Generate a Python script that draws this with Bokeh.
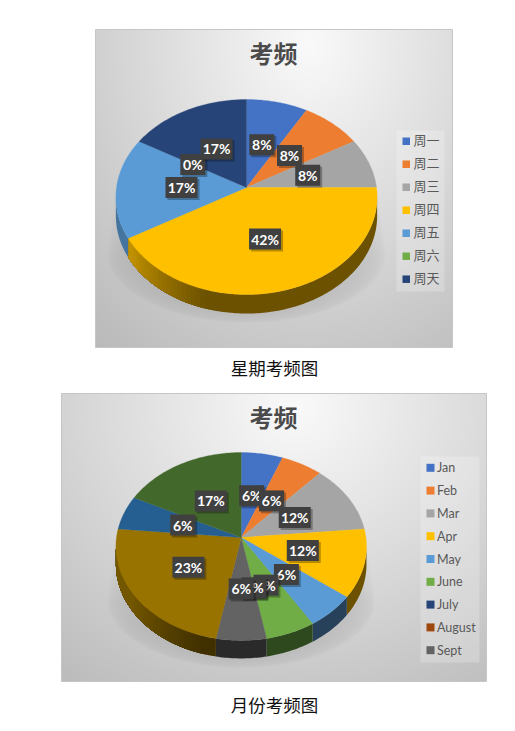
import numpy as np
from bokeh.plotting import figure
from bokeh.models import Range1d
from bokeh.core.properties import value
from bokeh.embed import file_html
from bokeh.resources import INLINE

# ---- data ----
chart_title = "考频"
week_names = ["周一", "周二", "周三", "周四", "周五", "周六", "周天"]
week_counts = [1, 1, 1, 5, 2, 0, 2]
week_labels = ["8%", "8%", "8%", "42%", "17%", "0%", "17%"]
week_caption = "星期考频图"

month_legend = ["Jan", "Feb", "Mar", "Apr", "May", "June", "July", "August", "Sept"]
month_counts = [1, 1, 2, 2, 1, 1, 0, 0, 1, 4, 1, 3]
month_labels = ["6%", "6%", "12%", "12%", "6%", "6%", "0%", "0%", "6%", "23%", "6%", "17%"]
month_caption = "月份考频图"

palette = ["#4472C4", "#ED7D31", "#A5A5A5", "#FFC000", "#5B9BD5", "#70AD47",
           "#264478", "#9E480E", "#636363", "#997300", "#255E91", "#43682B"]
week_colors = palette[:6] + ["#264478"]

W, H = 507, 723
p = figure(width=W, height=H, output_backend="svg", toolbar_location=None,
           x_range=Range1d(0, W), y_range=Range1d(0, H),
           x_axis_type=None, y_axis_type=None, min_border=0,
           outline_line_color=None, background_fill_color="white",
           border_fill_color="white")
p.grid.visible = False


def X(px):
    return np.asarray(px, dtype=float)


def Y(py):
    return H - np.asarray(py, dtype=float)


def hex_rgb(c):
    return np.array([int(c[i:i + 2], 16) for i in (1, 3, 5)], dtype=float)


def to_hex(rgb):
    return "#%02x%02x%02x" % tuple(int(round(min(255, max(0, v)))) for v in rgb)


def shade(theta):
    return 0.42 + 0.33 * np.clip((theta - 195) / 40, 0, 1)


def draw_panel(box, pie, counts, colors, labels, legend_names, legend_box, legend_rows,
               title_xy, caption, caption_xy, label_frac, glow):
    x0, y0, x1, y1 = box
    cx, cy, rx, ry, k, depth = pie

    def proj(theta, frac=1.0):
        t = np.radians(theta)
        w = 1 + k * np.cos(t)
        return cx + frac * rx * np.sin(t) / w, cy - frac * ry * np.cos(t) / w

    # background gradient + pie shadow
    pw, ph = int(x1 - x0), int(y1 - y0)
    xs = (np.arange(pw) + 0.5)
    ys = (np.arange(ph) + 0.5)
    gx, gy = np.meshgrid(xs, ys)
    d = np.sqrt(((gx / pw - glow) / 0.75) ** 2 + ((gy / ph - 0.05) / 1.0) ** 2)
    val = 250 - 52 * d
    ax = gx + x0 - cx
    ay = gy + y0 - cy
    mid = ry * 0.68
    half = rx + 9 * np.clip(ay / mid, 0, 1)
    u = np.abs(ax) / half
    v = np.where(ay > mid, (ay - mid) / (ry * 0.72), 0)
    r = np.sqrt(u ** 2 + v ** 2)
    sh = 0.2 * np.clip(1 - r, 0, 1) ** 0.5 * np.clip(ay / mid, 0, 1) ** 0.7
    val = val * (1 - sh)
    img = np.zeros((ph, pw), dtype=np.uint32)
    view = img.view(dtype=np.uint8).reshape((ph, pw, 4))
    view[:, :, 0] = view[:, :, 1] = view[:, :, 2] = np.clip(val, 0, 255).astype(np.uint8)
    view[:, :, 3] = 255
    p.image_rgba(image=[img[::-1]], x=[float(X(x0))], y=[float(Y(y1))], dw=[pw], dh=[ph])
    p.quad(left=[float(X(x0))], right=[float(X(x1))], bottom=[float(Y(y1))], top=[float(Y(y0))],
           fill_color=None, line_color="#c6c6c6", line_width=1)

    # slices
    total = sum(counts)
    edges = np.concatenate([[0], np.cumsum(counts)]) * 360.0 / total
    # wall: painter's order, each strip covers the rest of the slice so no seams show
    lim0 = np.degrees(np.arccos(-k))
    lim1 = 360 - lim0

    def wall(a, b, col):
        tt = np.linspace(a, b, max(3, int(b - a) + 2))
        px, py = proj(tt)
        polyx = np.concatenate([px, px[::-1]])
        polyy = np.concatenate([py, py[::-1] + depth])
        p.patch(X(polyx), Y(polyy), fill_color=col, line_color=None)

    for i, c in enumerate(colors):
        a, b = max(edges[i], lim0), min(edges[i + 1], lim1)
        if b <= a:
            continue
        ts = [a] + [t for t in np.arange(195, 237, 2.0) if a < t < b]
        for t in ts:
            wall(t, b, to_hex(hex_rgb(c) * shade(t)))
    # top faces
    for i, c in enumerate(colors):
        a, b = edges[i], edges[i + 1]
        if b <= a:
            continue
        tt = np.linspace(a, b, max(3, int(b - a) + 2))
        px, py = proj(tt)
        polyx = np.concatenate([[cx], px])
        polyy = np.concatenate([[cy], py])
        p.patch(X(polyx), Y(polyy), fill_color=c, line_color=c, line_width=0.3)

    # data labels, drawn in series order so later ones cover earlier ones
    for i, lab in enumerate(labels):
        m = (edges[i] + edges[i + 1]) / 2
        lx, ly = proj(m, label_frac)
        bw = 32 if len(lab) == 3 else 25
        bh = 21
        p.quad(left=[float(X(lx - bw / 2 + 2))], right=[float(X(lx + bw / 2 + 2))],
               top=[float(Y(ly - bh / 2 + 2))], bottom=[float(Y(ly + bh / 2 + 2))],
               fill_color="#000000", fill_alpha=0.28, line_color=None)
        p.quad(left=[float(X(lx - bw / 2))], right=[float(X(lx + bw / 2))],
               top=[float(Y(ly - bh / 2))], bottom=[float(Y(ly + bh / 2))],
               fill_color="#404040", line_color=None)
        p.text(x=[float(X(lx))], y=[float(Y(ly))], text=[lab], text_color="white",
               text_font=value("Lato"), text_font_style="bold", text_font_size="14px",
               text_align="center", text_baseline="middle")

    # legend
    lx0, ly0, lx1, ly1 = legend_box
    p.quad(left=[float(X(lx0))], right=[float(X(lx1))], top=[float(Y(ly0))], bottom=[float(Y(ly1))],
           fill_color="white", fill_alpha=0.22, line_color=None)
    sq_x, text_x, row0, step, sq = legend_rows
    for i, name in enumerate(legend_names):
        yy = row0 + i * step
        p.quad(left=[float(X(sq_x))], right=[float(X(sq_x + sq))],
               top=[float(Y(yy - sq / 2))], bottom=[float(Y(yy + sq / 2))],
               fill_color=colors[i], line_color=None)
        latin = name.isascii()
        p.text(x=[float(X(text_x))], y=[float(Y(yy if latin else yy - 1.5))], text=[name],
               text_color="#595959",
               text_font=value("Lato" if latin else "Noto Sans CJK SC"),
               text_font_size="12.5px" if latin else "13px",
               text_align="left", text_baseline="middle")

    # title + caption
    p.text(x=[float(X(title_xy[0]))], y=[float(Y(title_xy[1]))], text=[chart_title],
           text_color="#4a4a4a", text_font=value("Noto Sans CJK SC"), text_font_style="bold",
           text_font_size="24px", text_align="center", text_baseline="middle")
    p.text(x=[float(X(caption_xy[0]))], y=[float(Y(caption_xy[1]))], text=[caption],
           text_color="#111111", text_font=value("Noto Sans CJK SC"),
           text_font_size="17.5px", text_align="center", text_baseline="middle")


draw_panel(box=(95, 29, 452, 347), pie=(246, 187, 130, 96.6, 0.0976, 19),
           counts=week_counts, colors=week_colors, labels=week_labels,
           legend_names=week_names, legend_box=(396, 130, 444, 291),
           legend_rows=(402, 413, 140.7, 23.0, 7.5), title_xy=(273, 52),
           caption=week_caption, caption_xy=(274, 367), label_frac=0.5, glow=0.6)

draw_panel(box=(61, 393, 486, 681), pie=(240.7, 537, 124.7, 93.1, 0.0955, 18),
           counts=month_counts, colors=palette, labels=month_labels,
           legend_names=month_legend, legend_box=(420, 456, 479, 662),
           legend_rows=(426, 436.5, 467.3, 22.8, 8), title_xy=(273, 416),
           caption=month_caption, caption_xy=(274, 704), label_frac=0.5, glow=0.55)

open("out.html", "w").write(file_html(p, INLINE))
